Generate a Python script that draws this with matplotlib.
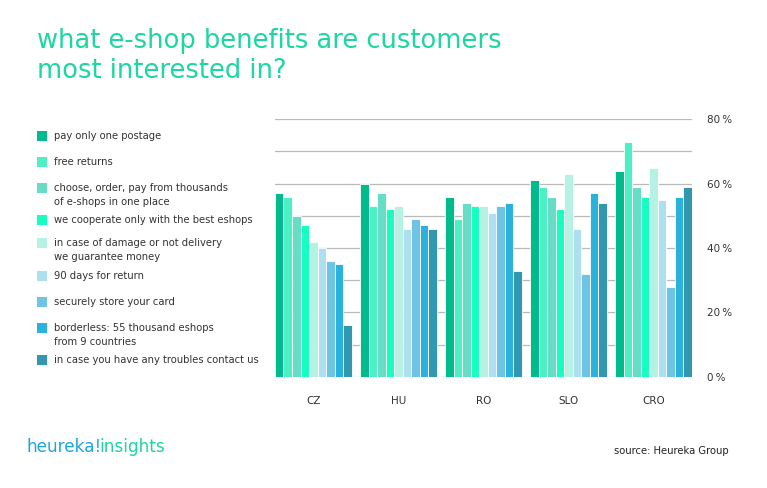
import matplotlib
matplotlib.use("Agg")
import matplotlib.pyplot as plt
from matplotlib.patches import Rectangle

# data (percent of customers)
countries = ["CZ", "HU", "RO", "SLO", "CRO"]
benefits = [
    "pay only one postage",
    "free returns",
    "choose, order, pay from thousands\nof e-shops in one place",
    "we cooperate only with the best eshops",
    "in case of damage or not delivery\nwe guarantee money",
    "90 days for return",
    "securely store your card",
    "borderless: 55 thousand eshops\nfrom 9 countries",
    "in case you have any troubles contact us",
]
pay_postage = [57, 60, 56, 61, 64]
free_returns = [56, 53, 49, 59, 73]
choose_order = [50, 57, 54, 56, 59]
best_eshops = [47, 52, 53, 52, 56]
guarantee = [42, 53, 53, 63, 65]
days_return = [40, 46, 51, 46, 55]
store_card = [36, 49, 53, 32, 28]
borderless = [35, 47, 54, 57, 56]
contact_us = [16, 46, 33, 54, 59]
series = [pay_postage, free_returns, choose_order, best_eshops, guarantee,
          days_return, store_card, borderless, contact_us]

colors = ["#00bb8c", "#4df0c4", "#66ddc4", "#14ffc0", "#b6f2e4",
          "#acdff0", "#6ec4e4", "#2bb2dc", "#3198b0"]

fig = plt.figure(figsize=(7.67, 4.88), dpi=100)
ax = fig.add_axes([0.3585, 0.2281, 0.5437, 0.5274])

n = len(series)
step = n + 1
for i, vals in enumerate(series):
    xs = [g * step + i for g in range(len(countries))]
    ax.bar(xs, vals, width=1.0, color=colors[i], edgecolor="white",
           linewidth=0.6, zorder=3)

ax.set_xlim(-0.5, (len(countries) - 1) * step + n - 0.5)
ax.set_ylim(0, 80)
for y in range(0, 81, 10):
    ax.axhline(y, color="#bababa", linewidth=0.9, zorder=1)

ax.set_xticks([g * step + (n - 1) / 2 for g in range(len(countries))])
ax.set_xticklabels(countries, fontsize=7.5, color="#333333")
ax.yaxis.tick_right()
ax.set_yticks(range(0, 81, 20))
ax.set_yticklabels([f"{v}\u2009%" for v in range(0, 81, 20)],
                   fontsize=7.5, color="#333333")
ax.tick_params(axis="both", length=0)
ax.tick_params(axis="x", pad=14)
ax.tick_params(axis="y", pad=11)
for s in ax.spines.values():
    s.set_visible(False)

# title
fig.text(37 / 767, 1 - 56 / 488,
         "what e-shop benefits are customers\nmost interested in?",
         fontsize=18.5, color="#1dd6a1", va="center", ha="left",
         linespacing=1.25)

# legend drawn by hand
legend_y = [136, 162, 188, 220, 243, 276, 302, 328, 360]
for label, c, y in zip(benefits, colors, legend_y):
    fig.patches.append(Rectangle((37 / 767, 1 - (y + 5) / 488), 10 / 767, 10 / 488,
                                 transform=fig.transFigure, facecolor=c,
                                 edgecolor="none"))
    fig.text(54 / 767, 1 - (y - 5) / 488, label, fontsize=7.2,
             color="#333333", va="top", ha="left", linespacing=1.55)

# footer
t1 = fig.text(27 / 767, 1 - 447 / 488, "heureka!", fontsize=12.2,
              color="#1ba6e0", va="center", ha="left")
fig.canvas.draw()
bb = t1.get_window_extent()
fig.text((bb.x1 - 3) / fig.bbox.width, 1 - 447 / 488, "insights", fontsize=12.2,
         color="#1ed5a0", va="center", ha="left")
fig.text(729 / 767, 1 - 451 / 488, "source: Heureka Group", fontsize=7.2,
         color="#222222", va="center", ha="right")

fig.savefig("out.png", dpi=100)
